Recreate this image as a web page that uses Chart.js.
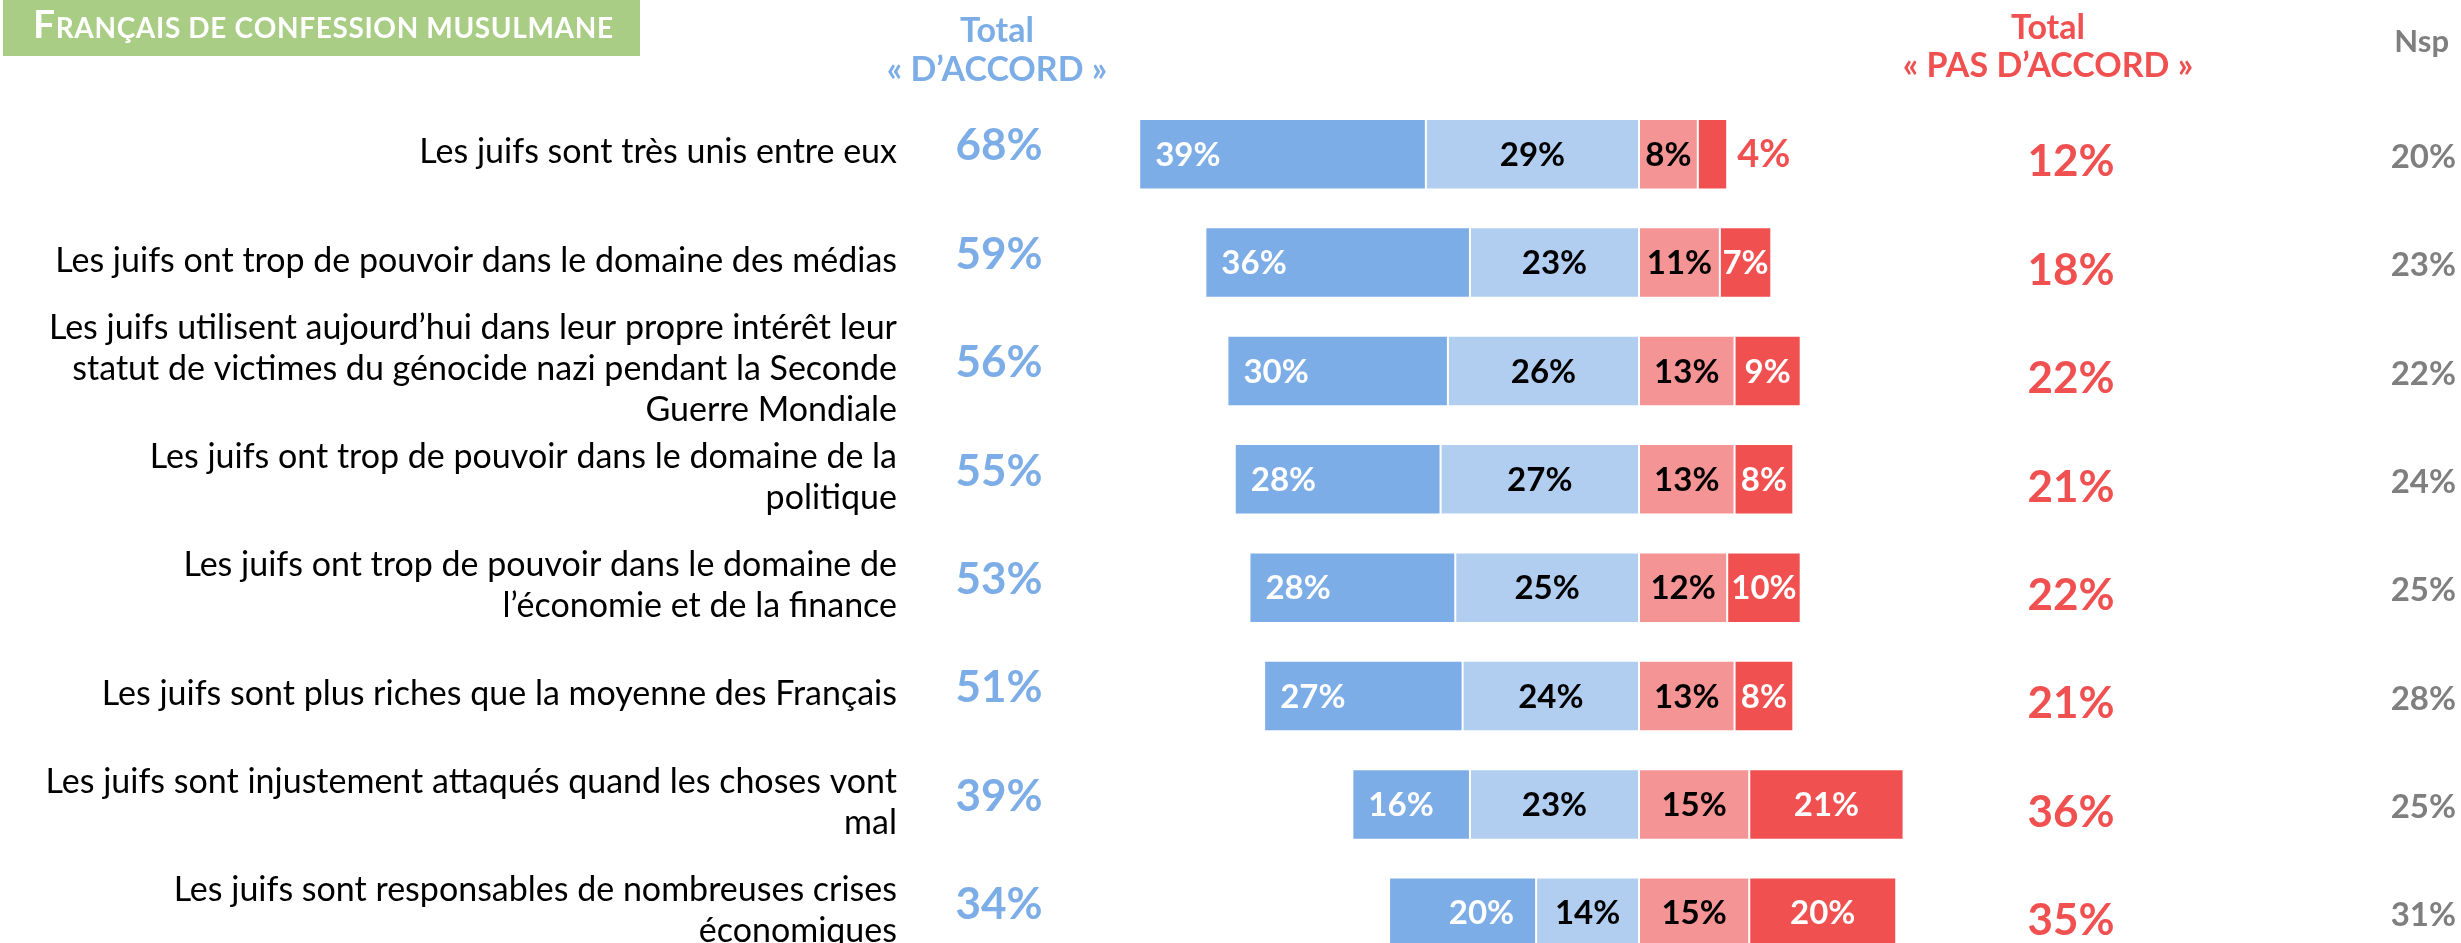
<!DOCTYPE html>
<html lang="fr">
<head>
<meta charset="utf-8">
<title>Français de confession musulmane</title>
<script src="https://cdn.jsdelivr.net/npm/chart.js@4.4.1/dist/chart.umd.min.js"></script>
<style>
  html, body { margin: 0; padding: 0; background: #fff; overflow: hidden; }
  .chart-box { position: relative; width: 2461px; height: 967px; }
</style>
</head>
<body>
<div class="chart-box"><canvas id="myChart"></canvas></div>
<script>
const categories = [
    'Les juifs sont très unis entre eux',
    'Les juifs ont trop de pouvoir dans le domaine des médias',
    ['Les juifs utilisent aujourd’hui dans leur propre intérêt leur', 'statut de victimes du génocide nazi pendant la Seconde', 'Guerre Mondiale'],
    ['Les juifs ont trop de pouvoir dans le domaine de la', 'politique'],
    ['Les juifs ont trop de pouvoir dans le domaine de', 'l’économie et de la finance'],
    'Les juifs sont plus riches que la moyenne des Français',
    ['Les juifs sont injustement attaqués quand les choses vont', 'mal'],
    ['Les juifs sont responsables de nombreuses crises', 'économiques']
];
const toutAFait = [39, 36, 30, 28, 28, 27, 16, 20];
const plutot = [29, 23, 26, 27, 25, 24, 23, 14];
const plutotPas = [8, 11, 13, 13, 12, 13, 15, 15];
const pasDuTout = [4, 7, 9, 8, 10, 8, 21, 20];
const totalAccord = [68, 59, 56, 55, 53, 51, 39, 34];
const totalPasAccord = [12, 18, 22, 21, 22, 21, 36, 35];
const nsp = [20, 23, 22, 24, 25, 28, 25, 31];

const BLUE = '#7DADE6';
const LIGHT_BLUE = '#B1CEF1';
const PINK = '#F59494';
const RED = '#F05050';
const GREY = '#7F7F7F';
const GREEN = '#A9CD85';
const FONT = 'Lato, "Open Sans", sans-serif';

// where the label sits inside the dark blue segment
const darkAnchor = ['start', 'start', 'start', 'start', 'start', 'start', 'start', 'end'];

const ctx = document.getElementById('myChart');

const neg = arr => arr.map(v => -v);

const data1 = { label: 'Plutôt d’accord', data: neg(plutot), backgroundColor: LIGHT_BLUE, textColor: '#000' };
const data2 = { label: 'Tout à fait d’accord', data: neg(toutAFait), backgroundColor: BLUE, textColor: '#fff' };
const data3 = { label: 'Plutôt pas d’accord', data: plutotPas, backgroundColor: PINK, textColor: '#000' };
const data4 = { label: 'Pas du tout d’accord', data: pasDuTout, backgroundColor: RED, textColor: '#fff' };
[data1, data2, data3, data4].forEach(d => {
    d.borderColor = '#fff';
    d.borderWidth = 1;
    d.borderSkipped = false;
    d.barPercentage = 1;
    d.categoryPercentage = 0.65;
});

// first letter big, the rest as small capitals, stretched to a given width
function smallCaps(c, text, x, y, big, small, width) {
    const chars = text.toUpperCase().split('');
    const fontFor = i => 'bold ' + (i === 0 ? big : small) + 'px ' + FONT;
    let natural = 0;
    chars.forEach((ch, i) => { c.font = fontFor(i); natural += c.measureText(ch).width; });
    const gap = (width - natural) / (chars.length - 1);
    let cx = x;
    chars.forEach((ch, i) => {
        c.font = fontFor(i);
        c.fillText(ch, cx, y);
        cx += c.measureText(ch).width + gap;
    });
}

const textPlugin = {
    id: 'textPlugin',
    afterDraw(chart) {
        const c = chart.ctx;
        const y = chart.scales.y;
        c.save();

        // title
        c.fillStyle = GREEN;
        c.fillRect(3, 0, 637, 56);
        c.fillStyle = '#fff';
        c.textAlign = 'left';
        c.textBaseline = 'alphabetic';
        smallCaps(c, 'Français de confession musulmane', 33, 38, 39, 28, 580);

        // headers
        c.textAlign = 'center';
        c.font = 'bold 34px ' + FONT;
        c.fillStyle = BLUE;
        c.fillText('Total', 997, 42);
        c.fillText('« D’ACCORD »', 997, 81);
        c.fillStyle = RED;
        c.fillText('Total', 2048, 39);
        c.fillText('« PAS D’ACCORD »', 2048, 77);
        c.textAlign = 'right';
        c.fillStyle = GREY;
        c.font = 'bold 31px ' + FONT;
        c.fillText('Nsp', 2449, 52);

        c.textBaseline = 'middle';
        categories.forEach((cat, i) => {
            const cy = y.getPixelForValue(i);
            const lines = Array.isArray(cat) ? cat : [cat];
            c.fillStyle = '#000';
            c.textAlign = 'right';
            c.font = '34px ' + FONT;
            lines.forEach((line, j) => {
                c.fillText(line, 897, cy - 2 + (j - (lines.length - 1) / 2) * 41);
            });

            c.textAlign = 'center';
            c.font = 'bold 44px ' + FONT;
            c.fillStyle = BLUE;
            c.fillText(totalAccord[i] + '%', 999, cy - 8);
            c.fillStyle = RED;
            c.fillText(totalPasAccord[i] + '%', 2071, cy + 8);

            c.textAlign = 'right';
            c.font = 'bold 33px ' + FONT;
            c.fillStyle = GREY;
            c.fillText(nsp[i] + '%', 2456, cy + 3);
        });

        // values in the bars
        c.font = 'bold 33px ' + FONT;
        chart.data.datasets.forEach((ds, di) => {
            chart.getDatasetMeta(di).data.forEach((bar, i) => {
                const p = bar.getProps(['x', 'base', 'y'], true);
                const v = Math.abs(ds.data[i]);
                const lo = Math.min(p.x, p.base);
                const hi = Math.max(p.x, p.base);
                let tx = (lo + hi) / 2;
                c.textAlign = 'center';
                c.fillStyle = ds.textColor;
                if (ds === data2) {
                    if (darkAnchor[i] === 'end') {
                        c.textAlign = 'right';
                        tx = hi - 22;
                    } else {
                        c.textAlign = 'left';
                        tx = lo + 16;
                    }
                }
                if (ds === data4 && v < 5) {
                    c.textAlign = 'left';
                    c.fillStyle = RED;
                    c.font = 'bold 38px ' + FONT;
                    c.fillText(v + '%', hi + 10, p.y + 1);
                    c.font = 'bold 33px ' + FONT;
                    return;
                }
                c.fillText(v + '%', tx, p.y + 1);
            });
        });
        c.restore();
    }
};

const myChart = new Chart(ctx, {
    type: 'bar',
    data: {
        labels: categories,
        datasets: [data1, data2, data3, data4]
    },
    options: {
        indexAxis: 'y',
        responsive: true,
        maintainAspectRatio: false,
        animation: false,
        layout: { padding: { top: 100, bottom: 0, left: 0, right: 0 } },
        plugins: {
            legend: { display: false },
            tooltip: { enabled: false }
        },
        scales: {
            x: { stacked: true, display: false, min: -223, max: 111.84 },
            y: { stacked: true, display: false, offset: true, grid: { display: false } }
        }
    },
    plugins: [textPlugin]
});
</script>
</body>
</html>
